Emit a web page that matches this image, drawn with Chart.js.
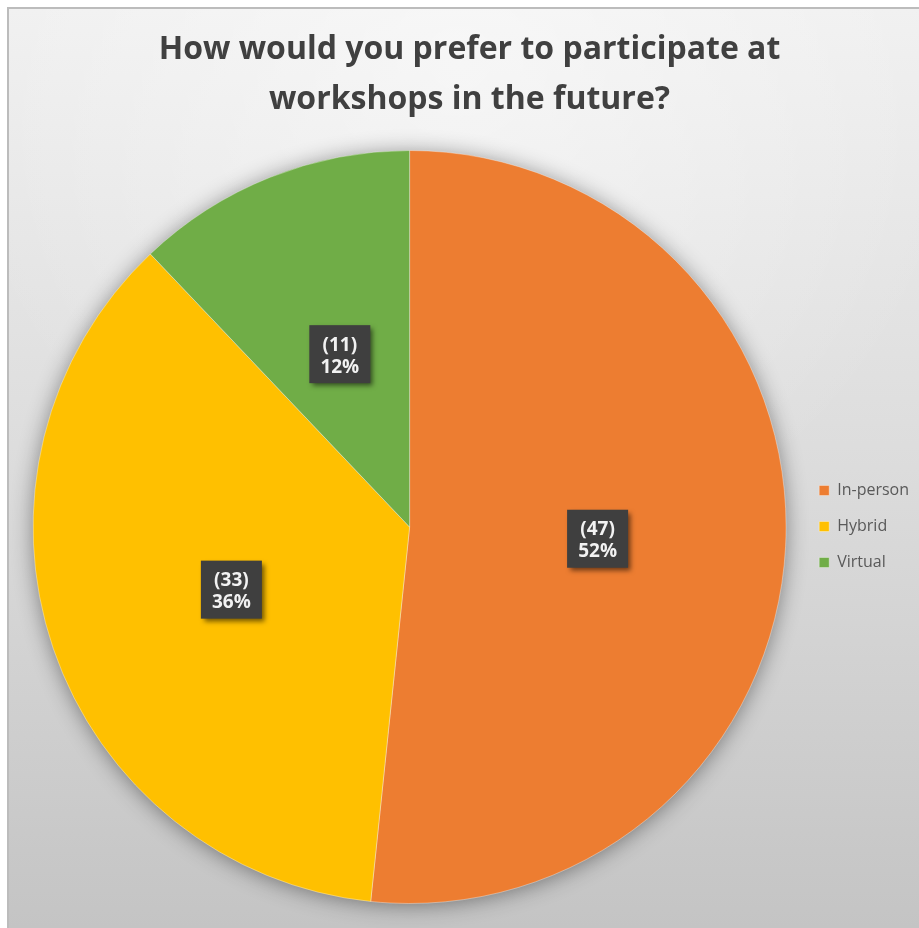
<!DOCTYPE html>
<html>
<head>
<meta charset="utf-8">
<script src="https://cdn.jsdelivr.net/npm/chart.js@4/dist/chart.umd.min.js"></script>
<style>
html,body{margin:0;padding:0;background:#fff;}
#wrap{position:absolute;left:0;top:0;width:919px;height:928px;}
</style>
</head>
<body>
<div id="wrap"><canvas id="c" width="919" height="928"></canvas></div>
<script>
const titleLines = ['How would you prefer to participate at', 'workshops in the future?'];
const categories = ['In-person', 'Hybrid', 'Virtual'];
const counts = [47, 33, 11];
const percentLabels = ['52%', '36%', '12%'];
const sliceColors = ['#ED7D31', '#FFC000', '#70AD47'];

const bgPlugin = {
  id: 'bg',
  beforeDraw(chart) {
    const ctx = chart.ctx;
    ctx.save();
    ctx.fillStyle = '#ffffff';
    ctx.fillRect(0, 0, chart.width, chart.height);
    const g = ctx.createLinearGradient(0, 8, 0, chart.height);
    g.addColorStop(0, '#f0f0f0');
    g.addColorStop(0.5, '#dcdcdc');
    g.addColorStop(1, '#c4c4c4');
    ctx.fillStyle = g;
    ctx.fillRect(8, 8, chart.width - 8, chart.height - 8);
    const r = ctx.createRadialGradient(460, 60, 0, 460, 60, 520);
    r.addColorStop(0, 'rgba(255,255,255,0.5)');
    r.addColorStop(1, 'rgba(255,255,255,0)');
    ctx.fillStyle = r;
    ctx.fillRect(8, 8, chart.width - 8, chart.height - 8);
    ctx.strokeStyle = '#bcbcbc';
    ctx.lineWidth = 2;
    ctx.beginPath();
    ctx.moveTo(8, chart.height);
    ctx.lineTo(8, 8);
    ctx.lineTo(chart.width, 8);
    ctx.stroke();
    ctx.restore();
  },
  beforeDatasetsDraw(chart) {
    const meta = chart.getDatasetMeta(0);
    if (!meta.data.length) return;
    const a = meta.data[0];
    const ctx = chart.ctx;
    ctx.save();
    ctx.shadowColor = 'rgba(0,0,0,0.45)';
    ctx.shadowBlur = 22;
    ctx.shadowOffsetX = 0;
    ctx.shadowOffsetY = 2;
    ctx.fillStyle = '#bbbbbb';
    ctx.beginPath();
    ctx.arc(a.x, a.y, a.outerRadius - 1, 0, Math.PI * 2);
    ctx.fill();
    ctx.restore();
  },
  afterDatasetsDraw(chart) {
    const meta = chart.getDatasetMeta(0);
    const ctx = chart.ctx;
    meta.data.forEach((arc, i) => {
      const p = arc.tooltipPosition();
      const w = 61, h = 58;
      const x = p.x - w / 2, y = p.y - h / 2 + 2;
      ctx.save();
      ctx.shadowColor = 'rgba(0,0,0,0.55)';
      ctx.shadowBlur = 5;
      ctx.shadowOffsetX = 3;
      ctx.shadowOffsetY = 3;
      ctx.fillStyle = '#3f3f3f';
      ctx.fillRect(x, y, w, h);
      ctx.restore();
      ctx.save();
      ctx.fillStyle = '#f2f2f2';
      ctx.font = 'bold 19px "Open Sans", "Liberation Sans", sans-serif';
      ctx.textAlign = 'center';
      ctx.textBaseline = 'middle';
      ctx.fillText('(' + counts[i] + ')', p.x, y + 20);
      ctx.fillText(percentLabels[i], p.x, y + 42);
      ctx.restore();
    });
  }
};

new Chart(document.getElementById('c'), {
  type: 'pie',
  data: {
    labels: categories,
    datasets: [{
      data: counts,
      backgroundColor: sliceColors,
      borderColor: 'rgba(255,255,255,0.35)',
      borderWidth: 1
    }]
  },
  options: {
    responsive: false,
    animation: false,
    layout: { padding: { left: 20, top: 25, bottom: 24, right: 0 } },
    plugins: {
      title: {
        display: true,
        text: titleLines,
        color: '#404040',
        font: { family: '"Open Sans", sans-serif', size: 32, weight: 'bold', lineHeight: 1.5625 },
        padding: { top: 0, bottom: 25 }
      },
      legend: {
        position: 'right',
        title: {
          display: true,
          text: '',
          font: { size: 10, lineHeight: 1 },
          padding: { top: 114, bottom: 0 }
        },
        labels: {
          color: '#595959',
          font: { family: '"Open Sans", "Liberation Sans", sans-serif', size: 16 },
          boxWidth: 10,
          boxHeight: 10,
          padding: 20
        }
      },
      tooltip: { enabled: false }
    }
  },
  plugins: [bgPlugin]
});
</script>
</body>
</html>
